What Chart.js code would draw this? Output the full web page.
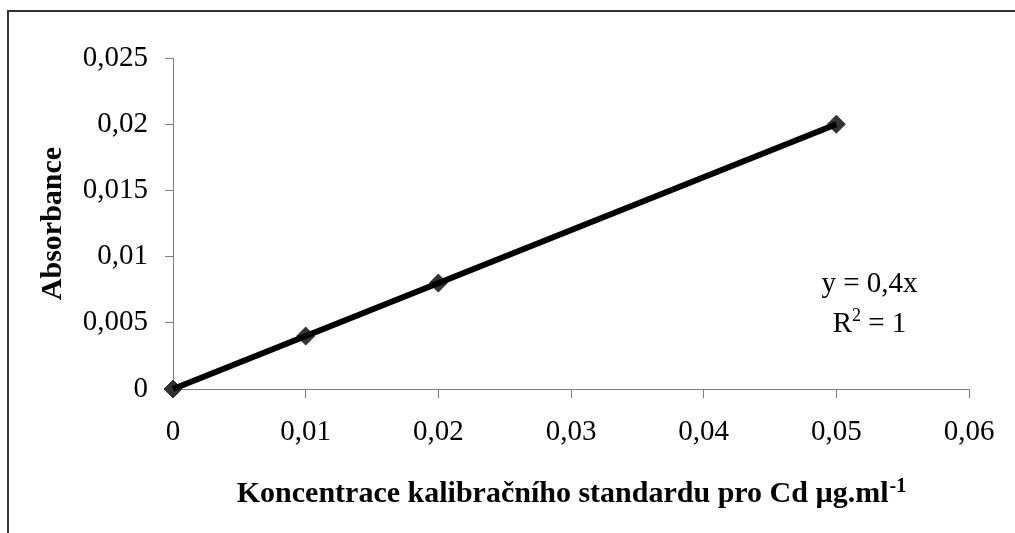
<!DOCTYPE html>
<html>
<head>
<meta charset="utf-8">
<script src="https://cdn.jsdelivr.net/npm/chart.js@4"></script>
<style>
  html, body { margin: 0; padding: 0; background: #fff; }
  #wrap { width: 1015px; height: 533px; }
</style>
</head>
<body>
<div id="wrap"><canvas id="chart" width="1015" height="533"></canvas></div>
<script>
// calibration standards
const concentrations = [0, 0.01, 0.02, 0.05];
const absorbances = [0, 0.004, 0.008, 0.02];

// linear trend line end points
const trendX = [0, 0.05];
const trendY = [0, 0.02];

const xTickLabels = ['0', '0,01', '0,02', '0,03', '0,04', '0,05', '0,06'];
const yTickLabels = ['0', '0,005', '0,01', '0,015', '0,02', '0,025'];

const xTitle = 'Koncentrace kalibračního standardu pro Cd µg.ml';
const xTitleSup = '-1';
const yTitle = 'Absorbance';
const eqText = 'y = 0,4x';
const r2Parts = ['R', '2', ' = 1'];

const serif = '"Liberation Serif", "Times New Roman", serif';
Chart.defaults.font.family = serif;
Chart.defaults.color = '#000';

const axisGray = '#7f7f7f';

// frame: only top and left edges are visible in the picture
const framePlugin = {
    id: 'frame',
    beforeDraw(chart) {
        const ctx = chart.ctx;
        ctx.save();
        ctx.fillStyle = '#fff';
        ctx.fillRect(0, 0, chart.width, chart.height);
        ctx.fillStyle = '#333';
        ctx.fillRect(7, 10, chart.width - 7, 2);
        ctx.fillRect(7, 10, 2, chart.height - 10);
        ctx.restore();
    }
};

// x axis title with superscript, and the trend line equation
const textPlugin = {
    id: 'texts',
    afterDraw(chart) {
        const ctx = chart.ctx;
        const area = chart.chartArea;
        const xs = chart.scales.x;
        const ys = chart.scales.y;
        ctx.save();
        ctx.fillStyle = '#000';
        ctx.textBaseline = 'alphabetic';
        ctx.textAlign = 'left';

        // x axis title
        ctx.font = 'bold 30px ' + serif;
        const wMain = ctx.measureText(xTitle).width;
        ctx.font = 'bold 20px ' + serif;
        const wSup = ctx.measureText(xTitleSup).width;
        let tx = (area.left + area.right) / 2 - (wMain + wSup) / 2;
        ctx.font = 'bold 30px ' + serif;
        ctx.fillText(xTitle, tx, 501.5);
        ctx.font = 'bold 20px ' + serif;
        ctx.fillText(xTitleSup, tx + wMain + 1, 491.5);

        // equation
        const cx = xs.getPixelForValue(0.0525);
        ctx.font = '29px ' + serif;
        ctx.textAlign = 'center';
        ctx.fillText(eqText, cx, ys.getPixelForValue(0.00736));

        ctx.textAlign = 'left';
        const by = ys.getPixelForValue(0.00427);
        ctx.font = '29px ' + serif;
        const wR = ctx.measureText(r2Parts[0]).width;
        const wRest = ctx.measureText(r2Parts[2]).width;
        ctx.font = '18px ' + serif;
        const w2 = ctx.measureText(r2Parts[1]).width;
        let rx = cx - (wR + w2 + wRest) / 2;
        ctx.font = '29px ' + serif;
        ctx.fillText(r2Parts[0], rx, by);
        ctx.fillText(r2Parts[2], rx + wR + w2, by);
        ctx.font = '18px ' + serif;
        ctx.fillText(r2Parts[1], rx + wR, by - 11);
        ctx.restore();
    }
};

const pointData = concentrations.map((c, i) => ({x: c, y: absorbances[i]}));
const trendData = trendX.map((c, i) => ({x: c, y: trendY[i]}));

new Chart(document.getElementById('chart'), {
    type: 'scatter',
    data: {
        datasets: [
            {
                label: 'trend',
                data: trendData,
                showLine: true,
                borderColor: '#000',
                borderWidth: 6,
                pointRadius: 0,
                clip: false,
                order: 0
            },
            {
                label: 'standards',
                data: pointData,
                pointStyle: 'rectRot',
                pointRadius: 9,
                borderWidth: 1,
                backgroundColor: '#333',
                borderColor: '#333',
                clip: false,
                order: 1
            }
        ]
    },
    options: {
        responsive: false,
        animation: false,
        events: [],
        layout: {
            padding: {top: 58, right: 46, bottom: 0, left: 0}
        },
        plugins: {
            legend: {display: false},
            tooltip: {enabled: false}
        },
        scales: {
            x: {
                type: 'linear',
                min: 0,
                max: 0.06,
                afterFit: (scale) => { scale.height = 144; },
                grid: {
                    drawOnChartArea: false,
                    drawTicks: true,
                    tickLength: 9,
                    color: axisGray
                },
                border: {display: true, color: axisGray, width: 1},
                ticks: {
                    stepSize: 0.01,
                    padding: 17,
                    maxRotation: 0,
                    font: {size: 29},
                    color: '#000',
                    callback: (value, index) => xTickLabels[index]
                }
            },
            y: {
                type: 'linear',
                min: 0,
                max: 0.025,
                afterFit: (scale) => { scale.width = 173; },
                grid: {
                    drawOnChartArea: false,
                    drawTicks: true,
                    tickLength: 8,
                    color: axisGray
                },
                border: {display: true, color: axisGray, width: 1},
                title: {
                    display: true,
                    text: yTitle,
                    font: {size: 30, weight: 'bold'},
                    color: '#000',
                    padding: {top: 35, bottom: 0}
                },
                ticks: {
                    stepSize: 0.005,
                    padding: 17,
                    font: {size: 29},
                    color: '#000',
                    callback: (value, index) => yTickLabels[index]
                }
            }
        }
    },
    plugins: [framePlugin, textPlugin]
});
</script>
</body>
</html>
